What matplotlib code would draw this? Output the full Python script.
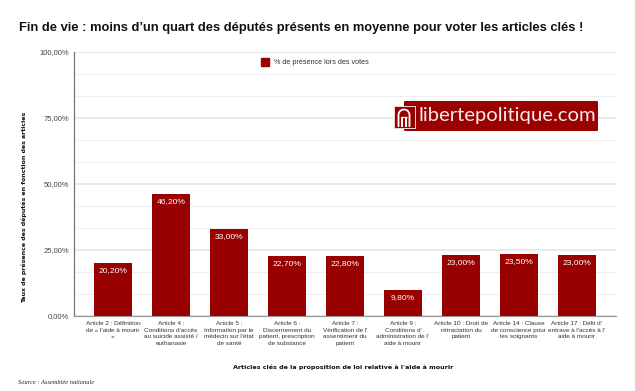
import numpy as np
import matplotlib
matplotlib.use("Agg")
import matplotlib.pyplot as plt
from matplotlib.lines import Line2D
from matplotlib.patches import Rectangle, FancyBboxPatch

plt.rcParams['font.family'] = ['Liberation Sans', 'DejaVu Sans']

labels = [
    "Article 2 : Définition\nde « l'aide à mourir\n»",
    "Article 4 :\nConditions d'accès\nau suicide assisté /\neuthanasie",
    "Article 5 :\nInformation par le\nmédecin sur l'état\nde santé",
    "Article 6 :\nDiscernement du\npatient, prescription\nde substance",
    "Article 7 :\nVérification de l'\nassentiment du\npatient",
    "Article 9 :\nConditions d'\nadministration de l'\naide à mourir",
    "Article 10 : Droit de\nrétractation du\npatient",
    "Article 14 : Clause\nde conscience pour\nles soignants",
    "Article 17 : Délit d'\nentrave à l'accès à l'\naide à mourir",
]
values = [20.2, 46.2, 33.0, 22.7, 22.8, 9.8, 23.0, 23.5, 23.0]
yticks = [0, 25, 50, 75, 100]
yticks_minor = [8.33, 16.67, 33.33, 41.67, 58.33, 66.67, 83.33, 91.67]
red = "#990000"

W, H = 635, 391
fig = plt.figure(figsize=(W / 100, H / 100), dpi=100)
ax = fig.add_axes([73.5 / W, 1 - 316 / H, 542 / W, 264 / H])

x = np.arange(len(values))
ax.bar(x, values, width=0.655, color=red, zorder=3)
ax.set_xlim(-0.68, 8.665)
ax.set_ylim(0, 100)

for xi, v in zip(x, values):
    ax.annotate(f"{v:.2f}%".replace(".", ","), (xi, v), xytext=(0, -2.8), textcoords="offset points",
                ha="center", va="top", color="white", fontsize=6.1, zorder=4)

ax.set_yticks(yticks)
ax.set_yticklabels([f"{t},00%" for t in yticks], fontsize=5.5, color="#444444")
ax.set_yticks(yticks_minor, minor=True)
ax.set_xticks(x)
ax.set_xticklabels(labels, fontsize=4.6, color="#333333", linespacing=1.45)
ax.tick_params(axis="x", length=0, pad=3.5)
ax.tick_params(axis="y", which="major", length=0, pad=3.2)
ax.tick_params(axis="y", which="minor", length=0)
ax.grid(axis="y", which="major", color="#e4e4e4", lw=1.1, zorder=0)
ax.grid(axis="y", which="minor", color="#eeeeee", lw=0.8, zorder=0)
ax.set_axisbelow(True)
for s in ["top", "right"]:
    ax.spines[s].set_visible(False)
ax.spines["left"].set_color("#777777")
ax.spines["bottom"].set_color("#999999")
ax.spines["left"].set_linewidth(0.9)
ax.spines["bottom"].set_linewidth(0.9)

fig.text(19 / W, 1 - 28 / H, "Fin de vie : moins d’un quart des députés présents en moyenne pour voter les articles clés !",
         fontsize=9.25, fontweight="bold", color="#111111", va="center")
fig.text(24.5 / W, 1 - 207 / H, "Taux de présence des députés en fonction des articles", rotation=90,
         fontsize=4.5, fontweight="bold", color="#111111", family="DejaVu Sans", ha="center", va="center")
fig.text(343.5 / W, 1 - 367 / H, "Articles clés de la proposition de loi relative à l'aide à mourir",
         fontsize=4.6, fontweight="bold", color="#111111", family="DejaVu Sans", ha="center", va="center")
fig.text(18 / W, 1 - 382 / H, "Source : Assemblée nationale", fontsize=4.6, style="italic",
         family="Liberation Serif", color="#222222", va="center")

# legend
fig.patches.append(Rectangle((261 / W, 1 - 66 / H), 8 / W, 8 / H, transform=fig.transFigure, color=red))
fig.text(274 / W, 1 - 62 / H, "% de présence lors des votes", fontsize=5.2, color="#333333", va="center")

# logo
fig.patches.append(FancyBboxPatch((404 / W, 1 - 131 / H), 194 / W, 30 / H, boxstyle="round,pad=0,rounding_size=0.003",
                                  mutation_aspect=H / W, transform=fig.transFigure, fc=red, ec="none", zorder=5))
fig.patches.append(Rectangle((393.5 / W, 1 - 128 / H), 21 / W, 22 / H, transform=fig.transFigure,
                             fc=red, ec="#f0d8d8", lw=0.7, zorder=6))


def logo_line(px, py, lw):
    fig.add_artist(Line2D(np.array(px) / W, 1 - np.array(py) / H, transform=fig.transFigure,
                          color="white", lw=lw, zorder=7, solid_capstyle="butt"))


t = np.linspace(np.pi, 0, 20)
logo_line(np.r_[398.5, 404 + 5.5 * np.cos(t), 409.5], np.r_[127, 115 - 5.5 * np.sin(t), 127], 1.3)
logo_line([402, 402], [117, 127], 1.4)
logo_line([406, 406], [117, 127], 1.4)
logo_line([401, 407], [116.5, 116.5], 0.9)

fig.text(419 / W, 1 - 116 / H, "libertepolitique.com", color="#f7e9e9", fontsize=14.6, va="center",
         family="Lato", zorder=7)

fig.savefig("out.png", dpi=100)
